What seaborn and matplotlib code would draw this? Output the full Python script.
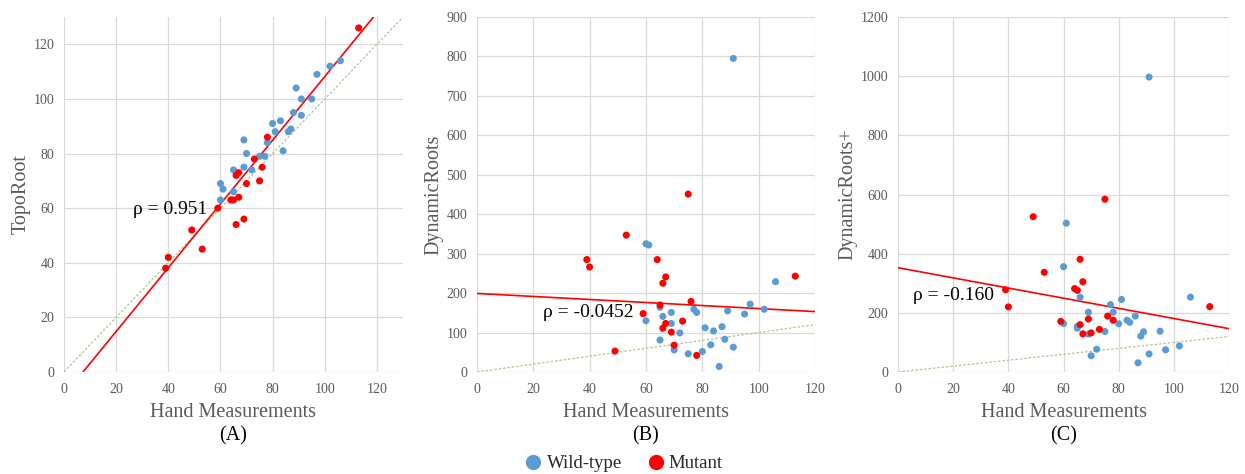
import numpy as np
import pandas as pd
import matplotlib
matplotlib.use("Agg")
import matplotlib.pyplot as plt
import seaborn as sns
from matplotlib.lines import Line2D

# Hand measurements (x) for each plant
wt_hand = [60, 60, 61, 65, 65, 66, 69, 69, 70, 72, 75, 77, 78, 80, 81, 83, 84,
           86, 87, 88, 89, 91, 91, 95, 97, 102, 106]
mut_hand = [39, 40, 49, 53, 59, 64, 65, 66, 66, 67, 67, 69, 70, 73, 75, 76, 78, 113]

# TopoRoot counts
wt_topo = [69, 63, 67, 74, 66, 73, 85, 75, 80, 74, 79, 79, 84, 91, 88, 92, 81,
           88, 89, 95, 104, 100, 94, 100, 109, 112, 114]
mut_topo = [38, 42, 52, 45, 60, 63, 63, 72, 54, 73, 64, 56, 69, 78, 70, 75, 86, 126]

# DynamicRoots counts
wt_dyn = [325, 130, 322, 164, 81, 141, 151, 123, 56, 99, 46, 159, 151, 52, 112, 69, 104,
          14, 115, 83, 155, 795, 63, 147, 172, 159, 229]
mut_dyn = [285, 266, 53, 347, 148, 285, 170, 225, 111, 241, 123, 101, 68, 129, 451, 179, 42, 243]

# DynamicRoots+ counts
wt_dynp = [356, 164, 503, 154, 148, 253, 202, 128, 55, 77, 137, 228, 202, 163, 245, 175, 168,
           189, 31, 121, 136, 997, 61, 138, 75, 88, 253]
mut_dynp = [278, 220, 525, 337, 171, 282, 276, 381, 160, 305, 129, 179, 132, 144, 584, 189, 175, 221]

groups = ["Wild-type", "Mutant"]
panel_titles = ["(A)", "(B)", "(C)"]
y_labels = ["TopoRoot", "DynamicRoots", "DynamicRoots+"]
rho_labels = ["\u03c1 = 0.951", "\u03c1 = -0.0452", "\u03c1 = -0.160"]

df = pd.DataFrame({
    "hand": wt_hand + mut_hand,
    "group": [groups[0]] * len(wt_hand) + [groups[1]] * len(mut_hand),
    "TopoRoot": wt_topo + mut_topo,
    "DynamicRoots": wt_dyn + mut_dyn,
    "DynamicRoots+": wt_dynp + mut_dynp,
})

sns.set_theme(style="white")
plt.rcParams["font.family"] = ["Liberation Serif", "DejaVu Serif"]

BLUE = "#5B9BD5"
RED = "#FF0000"
GRID = "#D9D9D9"
TICK = "#595959"
palette = {groups[0]: BLUE, groups[1]: RED}

fig = plt.figure(figsize=(12.45, 4.74), dpi=100)
positions = [
    [0.0514, 0.2152, 0.2723, 0.7489],
    [0.3831, 0.2152, 0.2715, 0.7489],
    [0.7213, 0.2152, 0.2659, 0.7489],
]
xlims = [(0, 130), (0, 120), (0, 120)]
ylims = [(0, 130), (0, 900), (0, 1200)]
yticks = [np.arange(0, 121, 20), np.arange(0, 901, 100), np.arange(0, 1201, 200)]
rho_pos = [(26.5, 59.5), (23.4, 150), (5.4, 260)]

for i, (pos, col) in enumerate(zip(positions, y_labels)):
    ax = fig.add_axes(pos)
    # 1:1 reference line
    ax.axline((0, 0), slope=1, color="#A9C78F", lw=0.9, ls=(0, (2, 1.5)), zorder=1)
    sns.scatterplot(data=df, x="hand", y=col, hue="group", palette=palette,
                    s=26, edgecolor="none", linewidth=0, legend=False, ax=ax, zorder=3)
    # least-squares trend line over all plants
    slope, intercept = np.polyfit(df["hand"], df[col], 1)
    ax.axline((0, intercept), slope=slope, color=RED, lw=1.2, zorder=2)

    ax.set_xlim(*xlims[i])
    ax.set_ylim(*ylims[i])
    ax.set_xticks(np.arange(0, 121, 20))
    ax.set_yticks(yticks[i])
    ax.grid(True, color=GRID, lw=0.9)
    ax.set_axisbelow(True)
    for s in ax.spines.values():
        s.set_visible(False)
    ax.tick_params(axis="both", length=0, labelsize=10, labelcolor=TICK)
    ax.tick_params(axis="x", pad=8)
    ax.tick_params(axis="y", pad=7)
    ax.set_xlabel("Hand Measurements", fontsize=14.5, color=TICK, labelpad=5)
    ax.set_ylabel(col, fontsize=14.5, color=TICK, labelpad=2)
    ax.text(*rho_pos[i], rho_labels[i], fontsize=14, color="black",
            ha="left", va="center", zorder=4)
    fig.text(pos[0] + pos[2] / 2, 0.081, panel_titles[i], fontsize=14.5,
             ha="center", va="center", color="black")

handles = [Line2D([], [], marker="o", ls="none", markersize=11,
                  markerfacecolor=palette[g], markeredgecolor="none") for g in groups]
fig.legend(handles, groups, loc="center", bbox_to_anchor=(0.5, 0.022), ncol=2,
           frameon=False, fontsize=13.5, handletextpad=0.1, columnspacing=1.2,
           handlelength=1.2)

fig.savefig("out.png", dpi=100)
